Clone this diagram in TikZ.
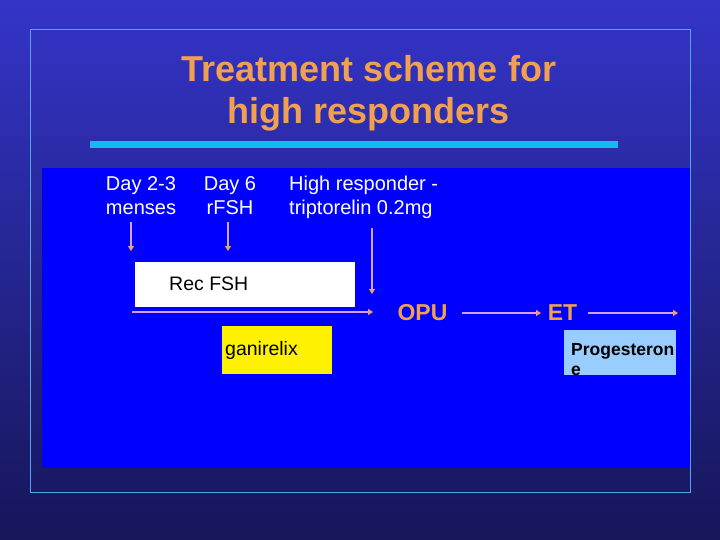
\documentclass[tikz,border=0pt]{standalone}
\usepackage{fontspec}
\setmainfont{Liberation Sans}
\usetikzlibrary{arrows.meta}
\definecolor{bgtop}{HTML}{3434C8}
\definecolor{bgbot}{HTML}{16165A}
\definecolor{framec}{HTML}{4FA8E8}
\definecolor{panel}{HTML}{0000FF}
\definecolor{barc}{HTML}{10BCF0}
\definecolor{titlec}{HTML}{F0A050}
\definecolor{arrc}{HTML}{D4A2EC}
\definecolor{tipc}{HTML}{F0A070}
\definecolor{progc}{HTML}{99CCFF}
\tikzset{
  bodytext/.style={text=white, font=\fontsize{20}{24}\selectfont, inner sep=0pt},
  flowarrow/.style={draw=arrc, line width=2pt, -{Triangle[length=5pt,width=6pt,color=tipc]}},
  stagetext/.style={text=titlec, font=\fontsize{23}{24}\selectfont\bfseries, inner sep=0pt},
}
\begin{document}
\begin{tikzpicture}[x=1pt,y=-1pt]
\useasboundingbox (0,0) rectangle (720,540);
\shade[top color=bgtop, bottom color=bgbot] (0,0) rectangle (720,540);
\fill[panel] (42,168) rectangle (690,468);
\draw[framec, line width=1pt] (30,30) rectangle (690,492);
\fill[barc] (90,141) rectangle (618,148);
\node[text=titlec, font=\fontsize{36}{42}\selectfont\bfseries, align=center, inner sep=0pt] (title) at (369,93) {Treatment scheme for\\high responders};
\node[bodytext, align=center] (d23) at (141,196) {Day 2-3\\menses};
\node[bodytext, align=center] (d6) at (230,196) {Day 6\\rFSH};
\node[bodytext, align=left, anchor=west] (hr) at (289,197) {High responder -\\triptorelin 0.2mg};
\coordinate (a1s) at (131,222); \coordinate (a1e) at (131,251);
\coordinate (a2s) at (228,222); \coordinate (a2e) at (228,251);
\coordinate (a3s) at (372,228); \coordinate (a3e) at (372,294);
\draw[flowarrow] (a1s) -- (a1e);
\draw[flowarrow] (a2s) -- (a2e);
\draw[flowarrow] (a3s) -- (a3e);
\node[fill=white, minimum width=220pt, minimum height=45pt, inner sep=0pt] (rec) at (245,284.5) {};
\node[text=black, font=\fontsize{19.5}{24}\selectfont, anchor=west, inner sep=0pt] (rect) at (169,284) {Rec FSH};
\coordinate (hs) at (132,312); \coordinate (he) at (373,312);
\draw[flowarrow] (hs) -- (he);
\node[stagetext] (opu) at (422.5,313) {OPU};
\node[stagetext] (et) at (562.5,313) {ET};
\coordinate (o1) at (462,313);
\coordinate (o2) at (541,313);
\coordinate (e1) at (588,313);
\coordinate (end) at (678,313);
\draw[flowarrow] (o1) -- (o2);
\draw[flowarrow] (e1) -- (end);
\node[fill=yellow, minimum width=110pt, minimum height=48pt, inner sep=0pt] (gan) at (277,350) {};
\node[text=black, font=\fontsize{19.5}{20}\selectfont, anchor=west, inner sep=0pt] (gant) at (225,350) {ganirelix};
\node[fill=progc, minimum width=112pt, minimum height=45pt, inner sep=0pt] (prog) at (620,352.5) {};
\node[text=black, font=\fontsize{17.5}{20}\selectfont\bfseries, align=left, anchor=north west, inner sep=0pt] (progt) at (571,343) {Progesteron\\e};
\end{tikzpicture}
\end{document}
